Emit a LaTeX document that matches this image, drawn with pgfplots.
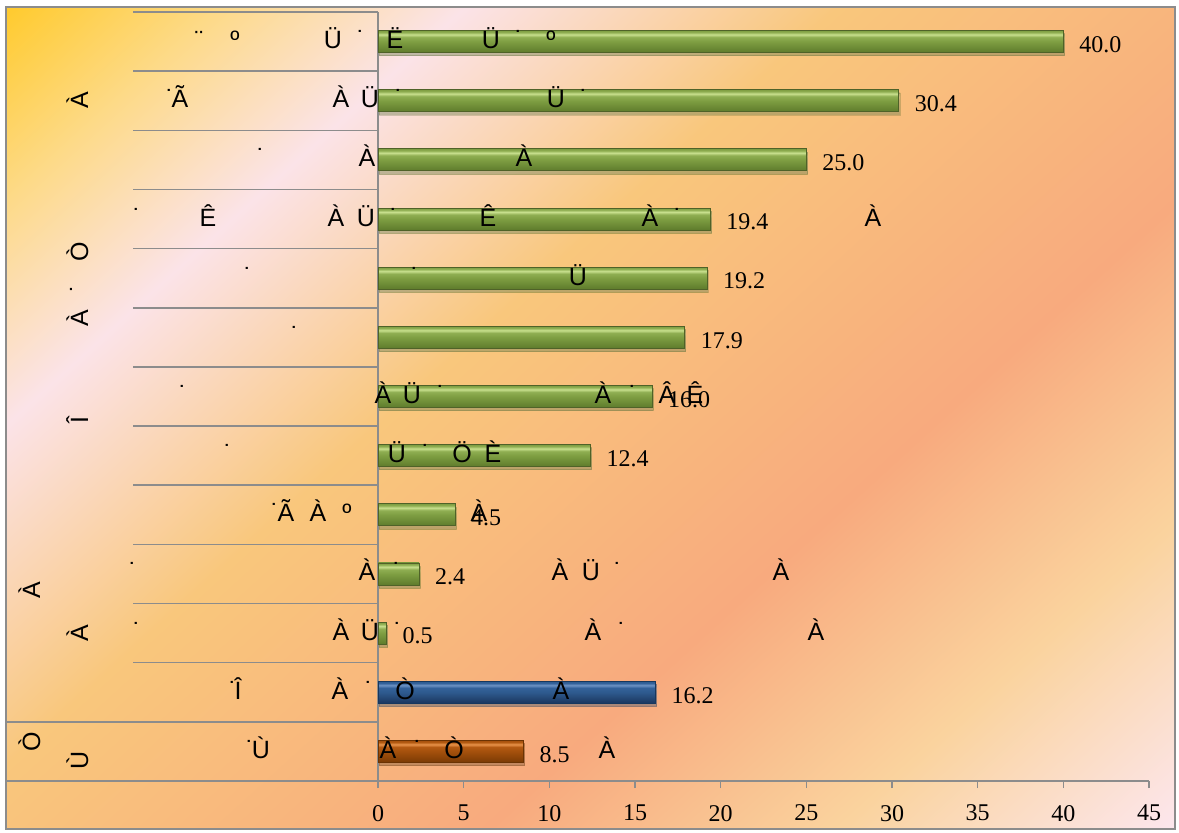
\documentclass[border=0pt]{standalone}
\usepackage{pgfplots}
\pgfplotsset{compat=1.18}
\usetikzlibrary{shadows}
\usepackage{fontspec}
\setmainfont{Liberation Serif}
\newfontfamily\gfont{Liberation Sans}
\definecolor{bg1}{HTML}{FFCB30}
\definecolor{bg2}{HTML}{FDDA88}
\definecolor{bg3}{HTML}{FBE3E8}
\definecolor{bg4}{HTML}{F9C77C}
\definecolor{bg5}{HTML}{F8AA7E}
\definecolor{bg6}{HTML}{FAD39E}
\definecolor{bg7}{HTML}{FCE6EC}
\definecolor{framegray}{HTML}{8C8C8C}
\definecolor{g1}{HTML}{5E7B2C}
\definecolor{g2}{HTML}{7E9E42}
\definecolor{g3}{HTML}{C8E08E}
\definecolor{g4}{HTML}{8FAE52}
\definecolor{gline}{HTML}{4F6228}
\definecolor{b1}{HTML}{1B365E}
\definecolor{b2}{HTML}{2E5A8E}
\definecolor{b3}{HTML}{6C92C4}
\definecolor{b4}{HTML}{33619A}
\definecolor{bline}{HTML}{17375E}
\definecolor{o1}{HTML}{7A3A04}
\definecolor{o2}{HTML}{A4500C}
\definecolor{o3}{HTML}{E8934A}
\definecolor{o4}{HTML}{B35A12}
\definecolor{oline}{HTML}{6B3303}
\pgfdeclarehorizontalshading{bgshade}{100bp}{color(0bp)=(bg1); color(14.7bp)=(bg1); color(21.8bp)=(bg2); color(30.2bp)=(bg3); color(43bp)=(bg4); color(62bp)=(bg5); color(74bp)=(bg6); color(85.3bp)=(bg7); color(100bp)=(bg7)}
\pgfdeclareverticalshading{gbar}{100bp}{color(0bp)=(g1); color(25bp)=(g1); color(50bp)=(g2); color(60bp)=(g4); color(66bp)=(g3); color(71bp)=(g4); color(75bp)=(g2); color(100bp)=(g2)}
\pgfdeclareverticalshading{bbar}{100bp}{color(0bp)=(b1); color(25bp)=(b1); color(50bp)=(b2); color(60bp)=(b4); color(66bp)=(b3); color(71bp)=(b4); color(75bp)=(b2); color(100bp)=(b2)}
\pgfdeclareverticalshading{obar}{100bp}{color(0bp)=(o1); color(25bp)=(o1); color(50bp)=(o2); color(60bp)=(o4); color(66bp)=(o3); color(71bp)=(o4); color(75bp)=(o2); color(100bp)=(o2)}
\tikzset{gl/.style={font=\gfont\fontsize{12.5}{14}\selectfont, inner sep=0pt, anchor=base},
  glr/.style={gl, rotate=90}}
\newcommand\G[3]{\node[gl] at (#1,#2) {#3};}
\newcommand\R[3]{\node[glr] at (#1,#2) {#3};}
\pgfplotsset{
  gb/.style={bar shift=0pt, shading=gbar, draw=gline, line width=0.4pt,
    drop shadow={opacity=0.25, shadow xshift=0.6pt, shadow yshift=-1.6pt}},
  bb/.style={bar shift=0pt, shading=bbar, draw=bline, line width=0.4pt,
    drop shadow={opacity=0.25, shadow xshift=0.6pt, shadow yshift=-1.6pt}},
  ob/.style={bar shift=0pt, shading=obar, draw=oline, line width=0.4pt,
    drop shadow={opacity=0.25, shadow xshift=0.6pt, shadow yshift=-1.6pt}},
}
\begin{document}
\begin{tikzpicture}
\begin{scope}[x=0.5pt,y=-0.5pt]
\fill[white] (0,0) rectangle (1179,832);
\shade[shading=bgshade, shading angle=-47.7] (6,7) rectangle (1175,829);
\end{scope}
\begin{axis}[
  at={(189pt,-390.5pt)}, anchor=south west,
  scale only axis, width=385.5pt, height=384.5pt,
  xmin=0, xmax=45, ymin=0.5, ymax=13.5,
  xbar, bar width=11pt,
  axis x line*=bottom, axis y line*=left,
  axis line style={framegray, line width=0.75pt},
  xtick={0,5,...,45}, ytick=\empty,
  tick align=outside, major tick length=3.5pt,
  tick style={framegray, line width=0.75pt},
  /pgf/number format/assume math mode=true,
  xticklabel style={font=\fontsize{12}{14}\selectfont, yshift=-5pt},
  nodes near coords,
  nodes near coords style={font=\fontsize{12}{14}\selectfont, xshift=4.5pt, yshift=-1.5pt,
     /pgf/number format/.cd, fixed, fixed zerofill, precision=1},
  clip=false,
]
\addplot[gb] coordinates {(40.0,13)};
\addplot[gb] coordinates {(30.4,12)};
\addplot[gb] coordinates {(25.0,11)};
\addplot[gb] coordinates {(19.4,10)};
\addplot[gb] coordinates {(19.2,9)};
\addplot[gb] coordinates {(17.9,8)};
\addplot[gb] coordinates {(16.0,7)};
\addplot[gb] coordinates {(12.4,6)};
\addplot[gb] coordinates {(4.5,5)};
\addplot[gb] coordinates {(2.4,4)};
\addplot[gb] coordinates {(0.5,3)};
\addplot[bb] coordinates {(16.2,2)};
\addplot[ob] coordinates {(8.5,1)};
\end{axis}
\begin{scope}[x=0.5pt,y=-0.5pt]
\draw[framegray, line width=0.75pt] (6,7) rectangle (1175,829);
\foreach \yy in {12,71.2,130.3,189.5,248.6,307.8,366.9,426.1,485.2,544.4,603.5,662.7}
  \draw[framegray, line width=0.75pt] (133,\yy) -- (378,\yy);
\draw[framegray, line width=0.75pt] (6,721.8) -- (378,721.8);
\draw[framegray, line width=0.75pt] (6,781) -- (378,781);
% row 1
\G{199}{48.6}{¨}\G{235}{48.6}{º}\G{333}{48.6}{Ü}\G{361}{48.6}{˙}\G{395}{48.6}{Ë}\G{491}{48.6}{Ü}\G{519}{48.6}{˙}\G{551}{48.6}{º}
% row 2
\G{170}{107.7}{˙}\G{180}{107.7}{Ã}\G{341}{107.7}{À}\G{370}{107.7}{Ü}\G{399}{107.7}{˙}\G{556}{107.7}{Ü}\G{584}{107.7}{˙}
% row 3
\G{261}{166.9}{˙}\G{367}{166.9}{À}\G{524}{166.9}{À}
% row 4
\G{137}{226}{˙}\G{208}{226}{Ê}\G{336}{226}{À}\G{366}{226}{Ü}\G{394}{226}{˙}\G{488}{226}{Ê}\G{650}{226}{À}\G{678}{226}{˙}\G{873}{226}{À}
% row 5
\G{248}{285.2}{˙}\G{415}{285.2}{˙}\G{578}{285.2}{Ü}
% row 6
\G{295}{344.3}{˙}
% row 7
\G{183}{403.5}{˙}\G{383}{403.5}{À}\G{412}{403.5}{Ü}\G{441}{403.5}{˙}\G{603}{403.5}{À}\G{633}{403.5}{˙}\G{667}{403.5}{Â}\G{695}{403.5}{Ê}
% row 8
\G{228}{462.6}{˙}\G{397}{462.6}{Ü}\G{426}{462.6}{˙}\G{462}{462.6}{Ö}\G{493}{462.6}{È}
% row 9
\G{275}{521.8}{˙}\G{286}{521.8}{Ã}\G{318}{521.8}{À}\G{347}{521.8}{º}\G{479}{521.8}{À}
% row 10
\G{133}{580.9}{˙}\G{367}{580.9}{À}\G{397}{580.9}{˙}\G{560}{580.9}{À}\G{591}{580.9}{Ü}\G{618}{580.9}{˙}\G{781}{580.9}{À}
% row 11
\G{137}{640.1}{˙}\G{341}{640.1}{À}\G{370}{640.1}{Ü}\G{398}{640.1}{˙}\G{593}{640.1}{À}\G{622}{640.1}{˙}\G{816}{640.1}{À}
% row 12
\G{233}{699.2}{˙}\G{238}{699.2}{Î}\G{340}{699.2}{À}\G{369}{699.2}{˙}\G{405}{699.2}{Ò}\G{561}{699.2}{À}
% row 13
\G{250}{758.4}{˙}\G{261}{758.4}{Ù}\G{388}{758.4}{À}\G{418}{758.4}{˙}\G{454}{758.4}{Ò}\G{607}{758.4}{À}
% rotated group labels
\R{88}{100}{À}\R{88}{252}{Ò}\R{88}{288}{˙}\R{88}{318}{À}\R{88}{420}{Î}\R{88}{633}{À}
\R{40}{590}{À}
\R{40}{742}{Ò}\R{88}{760}{Ù}
\end{scope}
\end{tikzpicture}
\end{document}
